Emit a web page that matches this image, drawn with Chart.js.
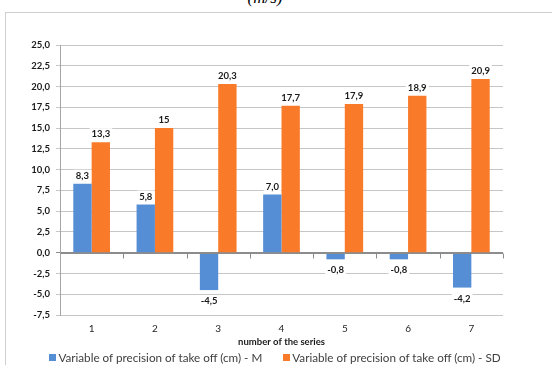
<!DOCTYPE html>
<html>
<head>
<meta charset="utf-8">
<script src="https://cdn.jsdelivr.net/npm/chart.js@4/dist/chart.umd.min.js"></script>
<style>
  html, body { margin: 0; padding: 0; background: #fff; }
  #wrap { position: relative; width: 552px; height: 365px; overflow: hidden; background: #fff; }
  #unit { position: absolute; left: 0; width: 552px; top: -11px; text-align: center;
          font: italic 17px "Liberation Serif", "DejaVu Serif", serif; line-height: 17px; color: #000; padding-right: 22px; box-sizing: border-box; }
  #frameTop { position: absolute; left: 5px; top: 12px; width: 547px; height: 1px; background: #cfcfcf; }
  #frameLeft { position: absolute; left: 5px; top: 12px; width: 1px; height: 353px; background: #cfcfcf; }
  #chart { position: absolute; left: 0; top: 0; }
  #legend { position: absolute; left: 0; top: 350px; width: 552px; display: flex; justify-content: center;
            gap: 21px; font: 11.7px Lato, "Noto Sans", sans-serif; color: #404040; padding-right: 2px; box-sizing: border-box; }
  #legend .item { display: flex; align-items: center; line-height: 14px; white-space: nowrap; }
  #legend .box { width: 7px; height: 7px; margin-right: 2px; }
</style>
</head>
<body>
<div id="wrap">
  <div id="unit">(m/s)</div>
  <div id="frameTop"></div>
  <div id="frameLeft"></div>
  <canvas id="chart" width="552" height="365"></canvas>
  <div id="legend"></div>
</div>
<script>
// Series numbers along the x axis
const categories = ['1', '2', '3', '4', '5', '6', '7'];
// Mean (M) and standard deviation (SD) of the take-off precision variable, in cm
const meanValues = [8.3, 5.8, -4.5, 7.0, -0.8, -0.8, -4.2];
const sdValues = [13.3, 15, 20.3, 17.7, 17.9, 18.9, 20.9];
const seriesNames = [
  'Variable of precision of take off (cm) - M',
  'Variable of precision of take off (cm) - SD'
];
const seriesColors = ['#558ed5', '#f97b2a'];
// Value axis range and step
const yMin = -7.5;
const yMax = 25;
const yStep = 2.5;
const xAxisTitle = 'number of the series';

const FONT = 'Lato, "Noto Sans", sans-serif';

const commaFixed = v => v.toFixed(1).replace('.', ',');
const commaGeneral = v => String(v).replace('.', ',');
const labelFormats = [commaFixed, commaGeneral];

// Draws the zero axis line with its category tick marks, and the value labels
const barExtras = {
  id: 'barExtras',
  afterDatasetsDraw(chart) {
    const {ctx, scales: {x, y}} = chart;
    const y0 = Math.round(y.getPixelForValue(0)) + 0.5;
    ctx.save();
    ctx.strokeStyle = '#8c8c8c';
    ctx.lineWidth = 1;
    ctx.beginPath();
    ctx.moveTo(x.left, y0);
    ctx.lineTo(x.right, y0);
    const n = categories.length;
    for (let i = 1; i <= n; i++) {
      const px = Math.round(x.left + (x.right - x.left) * i / n) + 0.5;
      ctx.moveTo(px, y0);
      ctx.lineTo(px, y0 + 5);
    }
    ctx.stroke();

    ctx.font = 'bold 9.5px ' + FONT;
    ctx.textAlign = 'center';
    ctx.textBaseline = 'middle';
    chart.data.datasets.forEach((ds, di) => {
      const meta = chart.getDatasetMeta(di);
      meta.data.forEach((bar, i) => {
        const v = ds.data[i];
        const text = labelFormats[di](v);
        const cy = v >= 0 ? bar.y - 8 : bar.y + 11;
        const w = ctx.measureText(text).width + 4;
        ctx.fillStyle = '#ffffff';
        ctx.fillRect(bar.x - w / 2, cy - 6, w, 12);
        ctx.fillStyle = '#1a1a1a';
        ctx.fillText(text, bar.x, cy);
      });
    });
    ctx.restore();
  }
};

const chart = new Chart(document.getElementById('chart'), {
  type: 'bar',
  data: {
    labels: categories,
    datasets: [
      { label: seriesNames[0], data: meanValues, backgroundColor: seriesColors[0] },
      { label: seriesNames[1], data: sdValues, backgroundColor: seriesColors[1] }
    ]
  },
  options: {
    responsive: false,
    animation: false,
    devicePixelRatio: 1,
    layout: { padding: { left: 0, right: 49, top: 45, bottom: 14 } },
    datasets: { bar: { categoryPercentage: 0.58, barPercentage: 1.0, borderWidth: 0 } },
    plugins: {
      legend: { display: false },
      tooltip: { enabled: false }
    },
    scales: {
      x: {
        grid: { display: false, drawTicks: false },
        border: { display: false },
        ticks: { padding: 8, color: '#262626', font: { family: FONT, size: 10 } },
        title: {
          display: true, text: xAxisTitle, color: '#1a1a1a',
          font: { family: FONT, size: 9.5, weight: 'bold' },
          padding: { top: 0, bottom: 3.5 }
        },
        afterFit(scale) { scale.height = 36; }
      },
      y: {
        min: yMin, max: yMax,
        ticks: {
          stepSize: yStep, padding: 6, color: '#1a1a1a',
          font: { family: FONT, size: 9.5, weight: 'bold' },
          callback: v => commaFixed(v)
        },
        grid: {
          color: c => (c.tick && c.tick.value === 0) ? '#8c8c8c' : '#c6c6c6',
          tickLength: 4, drawTicks: true
        },
        border: { display: true, color: '#a6a6a6' },
        afterFit(scale) { scale.width = 60; }
      }
    }
  },
  plugins: [barExtras]
});

// Legend built from the dataset names and colours
const legendEl = document.getElementById('legend');
chart.data.datasets.forEach(ds => {
  const item = document.createElement('div');
  item.className = 'item';
  const box = document.createElement('span');
  box.className = 'box';
  box.style.background = ds.backgroundColor;
  const txt = document.createElement('span');
  txt.textContent = ds.label;
  item.appendChild(box);
  item.appendChild(txt);
  legendEl.appendChild(item);
});
</script>
</body>
</html>
